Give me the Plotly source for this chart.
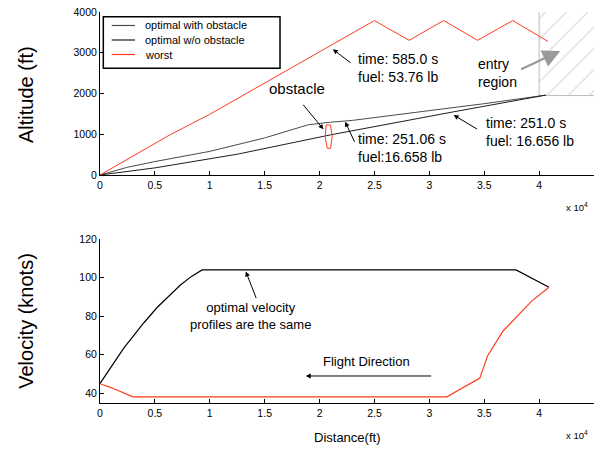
import plotly.graph_objects as go

# ---------------- data ----------------
# altitude profiles (distance in ft, altitude in ft)
dist_with_obst = [0, 2500, 5000, 10000, 15000, 19000, 21000, 23000, 30000, 35000, 40600]
alt_with_obst = [0, 190, 330, 580, 910, 1235, 1295, 1340, 1580, 1750, 1960]

dist_wo_obst = [0, 5000, 12500, 21000, 32200, 40600]
alt_wo_obst = [0, 175, 510, 985, 1550, 1960]

dist_worst = [0, 6400, 10000, 25000, 28160, 31300, 34400, 37600, 40800]
alt_worst = [0, 990, 1490, 3790, 3305, 3790, 3305, 3790, 3280]

# obstacle outline
obst_x = [20600, 21000, 21150, 21000, 20700, 20510, 20600]
obst_y = [1227, 1227, 940, 655, 655, 940, 1227]

# entry region bounds
entry_x = [40000, 40000, 46000, 46000, 40000]
entry_y = [4000, 1950, 1950, 4000, 4000]
entry_edge_x = [40000, 40000, 46000]
entry_edge_y = [4000, 1950, 1950]

# velocity profiles (distance in ft, velocity in knots)
dist_v_opt = [0, 360, 1000, 2200, 3000, 4000, 5200, 6350, 7300, 8300, 9300, 37900, 40500, 40900]
vel_opt = [45, 48.2, 53.6, 63.7, 69.5, 76.6, 84.5, 91.1, 96, 100.5, 104, 104, 96, 95]

dist_v_worst = [0, 1000, 3000, 31600, 34600, 35300, 36700, 39300, 40900]
vel_worst = [45, 43, 38.2, 38.2, 47.9, 59.4, 72.2, 87.7, 95]

# axis ticks
x_tickvals = [0, 5000, 10000, 15000, 20000, 25000, 30000, 35000, 40000, 45000]
x_ticktext = ["0", "0.5", "1", "1.5", "2", "2.5", "3", "3.5", "4", "4.5"]
alt_ticks = [0, 1000, 2000, 3000, 4000]
vel_ticks = [40, 60, 80, 100, 120]

# legend entries
legend_names = ["optimal with obstacle", "optimal w/o obstacle", "worst"]

RED = "#ff3b1e"
C_WITH = "#4a4a4a"
C_WO = "#1e1e1e"
legend_colors = [C_WITH, C_WO, RED]
FONT = "Liberation Sans, Arial, Helvetica, sans-serif"

fig = go.Figure()

# entry region (hatched)
fig.add_trace(go.Scatter(
    x=entry_x, y=entry_y, mode="none", fill="toself", fillcolor="rgba(0,0,0,0)",
    fillpattern=dict(shape="/", fgcolor="#b8b8b8", bgcolor="rgba(0,0,0,0)", size=15, solidity=0.08),
    hoverinfo="skip", xaxis="x", yaxis="y"))
fig.add_trace(go.Scatter(
    x=entry_edge_x, y=entry_edge_y, mode="lines", line=dict(color="#bdbdbd", width=1),
    hoverinfo="skip", xaxis="x", yaxis="y"))

# altitude profiles
fig.add_trace(go.Scatter(x=dist_with_obst, y=alt_with_obst, mode="lines",
                         line=dict(color=C_WITH, width=1), name=legend_names[0],
                         xaxis="x", yaxis="y"))
fig.add_trace(go.Scatter(x=dist_wo_obst, y=alt_wo_obst, mode="lines",
                         line=dict(color=C_WO, width=1), name=legend_names[1],
                         xaxis="x", yaxis="y"))
fig.add_trace(go.Scatter(x=dist_worst, y=alt_worst, mode="lines",
                         line=dict(color=RED, width=1), name=legend_names[2],
                         xaxis="x", yaxis="y"))
fig.add_trace(go.Scatter(x=obst_x, y=obst_y, mode="lines", line=dict(color=RED, width=1),
                         hoverinfo="skip", xaxis="x", yaxis="y"))

# velocity profiles
fig.add_trace(go.Scatter(x=dist_v_opt, y=vel_opt, mode="lines",
                         line=dict(color="#000000", width=1.2),
                         xaxis="x2", yaxis="y2"))
fig.add_trace(go.Scatter(x=dist_v_worst, y=vel_worst, mode="lines",
                         line=dict(color=RED, width=1.2),
                         xaxis="x2", yaxis="y2"))

axis_common = dict(showline=True, linecolor="black", linewidth=1, ticks="inside",
                   ticklen=4, tickcolor="black", showgrid=False, zeroline=False,
                   tickfont=dict(size=10.5, color="black", family=FONT))

fig.update_layout(
    width=600, height=449,
    margin=dict(l=100, r=6, t=12, b=46),
    paper_bgcolor="white", plot_bgcolor="white",
    font=dict(family=FONT, color="black"),
    showlegend=False,
    xaxis=dict(domain=[0, 1], range=[0, 45000], anchor="y",
               tickvals=x_tickvals, ticktext=x_ticktext, **axis_common),
    yaxis=dict(domain=[0.5831, 1], range=[0, 4000], anchor="x",
               tickvals=alt_ticks, **axis_common),
    xaxis2=dict(domain=[0, 1], range=[0, 45000], anchor="y2",
                tickvals=x_tickvals, ticktext=x_ticktext, **axis_common),
    yaxis2=dict(domain=[0, 0.4194], range=[35, 120], anchor="x2",
                tickvals=vel_ticks, **axis_common),
)

ann = []
shapes = []

# compact legend box in the upper-left corner of the altitude panel
shapes.append(dict(type="rect", xref="paper", yref="paper", x0=0.0067, x1=0.3644,
                   y0=0.856, y1=0.988, line=dict(color="black", width=1.5),
                   fillcolor="white", layer="above"))
legend_rows = [0.9655, 0.9284, 0.8913]
for name, color, ry in zip(legend_names, legend_colors, legend_rows):
    shapes.append(dict(type="line", xref="paper", yref="paper", x0=0.0237, x1=0.0709,
                       y0=ry, y1=ry, line=dict(color=color, width=1.2), layer="above"))
    ann.append(dict(text=name, xref="paper", yref="paper", x=0.0877, y=ry,
                    showarrow=False, font=dict(size=11), xanchor="left", yanchor="middle"))

# axis titles
ann.append(dict(text="Altitude (ft)", xref="paper", yref="paper", x=-0.150, y=0.79,
                textangle=-90, showarrow=False, font=dict(size=20),
                xanchor="center", yanchor="middle"))
ann.append(dict(text="Velocity (knots)", xref="paper", yref="paper", x=-0.150, y=0.21,
                textangle=-90, showarrow=False, font=dict(size=20),
                xanchor="center", yanchor="middle"))
ann.append(dict(text="Distance(ft)", xref="paper", yref="paper", x=0.5, y=-0.087,
                showarrow=False, font=dict(size=13), xanchor="center", yanchor="middle"))
for ypos in (0.502, -0.081):
    ann.append(dict(text="x 10<sup>4</sup>", xref="paper", yref="paper", x=0.966, y=ypos,
                    showarrow=False, font=dict(size=9.5), xanchor="center", yanchor="middle"))


def label(text, x, y, xanchor="left", size=14, xr="x", yr="y"):
    ann.append(dict(text=text, x=x, y=y, xref=xr, yref=yr, showarrow=False,
                    font=dict(size=size), xanchor=xanchor, yanchor="middle", align="left"))


def arrow(x0, y0, x1, y1, xr="x", yr="y", color="black", width=1, size=1.0, head=2):
    ann.append(dict(text="", x=x1, y=y1, ax=x0, ay=y0, xref=xr, yref=yr,
                    axref=xr, ayref=yr, showarrow=True, arrowhead=head,
                    arrowsize=size, arrowwidth=width, arrowcolor=color, standoff=0))


# altitude panel labels
label("time: 585.0 s<br>fuel: 53.76 lb", 23340, 2626)
arrow(22970, 2724, 21210, 3085)

label("obstacle", 17920, 2128, xanchor="center", size=15)
arrow(18390, 1760, 20360, 1121)

label("time: 251.06 s<br>fuel:16.658 lb", 23340, 675)
arrow(23250, 778, 22330, 1308)

label("time: 251.0 s<br>fuel: 16.656 lb", 34940, 1055)
arrow(34490, 1104, 32210, 1472)

label("entry<br>region", 34250, 2515)
arrow(38220, 2577, 41930, 3043, color="#9a9a9a", width=2.2, size=1.6, head=2)

# velocity panel labels
ann.append(dict(text="optimal velocity<br>profiles are the same", x=13740, y=80.3,
                xref="x2", yref="y2", showarrow=False, font=dict(size=13),
                xanchor="center", yanchor="middle", align="center"))
arrow(14280, 88.6, 13280, 103.2, xr="x2", yr="y2")

ann.append(dict(text="Flight Direction", x=24300, y=56.6, xref="x2", yref="y2",
                showarrow=False, font=dict(size=13), xanchor="center", yanchor="middle"))
arrow(30300, 49, 18750, 49, xr="x2", yr="y2")

fig.update_layout(annotations=ann, shapes=shapes)

fig.write_html("out.html")
